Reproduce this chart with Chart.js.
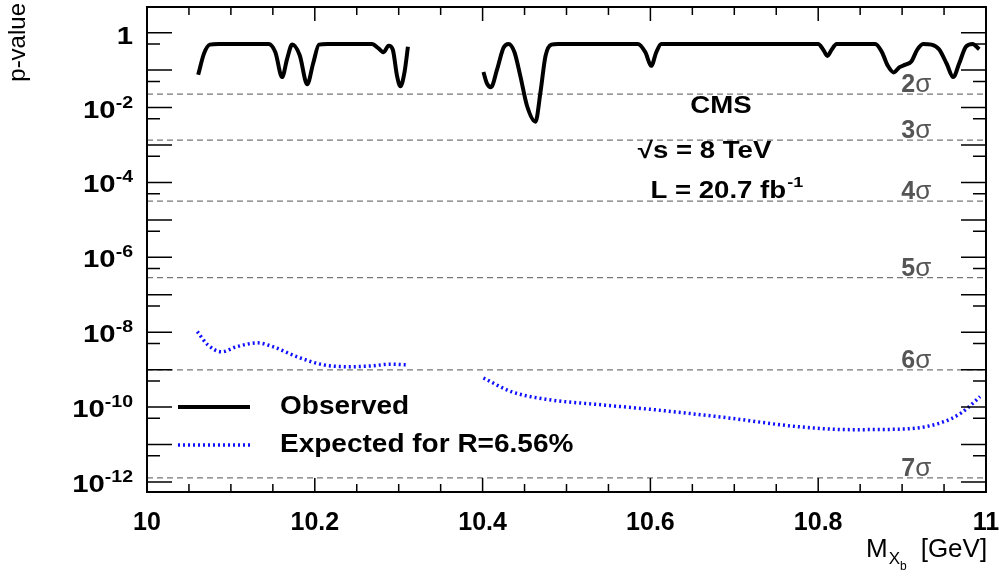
<!DOCTYPE html>
<html>
<head>
<meta charset="utf-8">
<script src="https://cdn.jsdelivr.net/npm/chart.js@4.4.0/dist/chart.umd.min.js"></script>
<style>
  html, body { margin: 0; padding: 0; background: #fff; }
  #wrap { width: 999px; height: 577px; }
</style>
</head>
<body>
<div id="wrap"><canvas id="pChart" width="999" height="577"></canvas></div>
<script>
// observed local p-value (null = gap between the two fit ranges)
const obsMass = [10.061, 10.068, 10.075, 10.085, 10.145, 10.153, 10.161, 10.167, 10.173, 10.182,
  10.191, 10.198, 10.205, 10.215, 10.268, 10.276, 10.282, 10.288, 10.293, 10.298, 10.302, 10.307,
  10.311, 10.35, 10.401, 10.405, 10.410, 10.417, 10.425, 10.431, 10.438, 10.445, 10.453, 10.463,
  10.469, 10.475, 10.482, 10.490, 10.585, 10.594, 10.601, 10.607, 10.613, 10.800, 10.806, 10.811,
  10.816, 10.822, 10.868, 10.876, 10.883, 10.890, 10.897, 10.904, 10.911, 10.918, 10.925, 10.935,
  10.944, 10.953, 10.961, 10.968, 10.976, 10.984, 10.992];
const obsP = [0.075, 0.28, 0.48, 0.5, 0.5, 0.3, 0.065, 0.2, 0.48, 0.25,
  0.042, 0.15, 0.48, 0.5, 0.5, 0.38, 0.30, 0.45, 0.35, 0.07, 0.037, 0.09,
  0.42, null, 0.089, 0.045, 0.035, 0.1, 0.4, 0.5, 0.3, 0.069, 0.011, 0.0042,
  0.026, 0.24, 0.48, 0.5, 0.5, 0.3, 0.13, 0.3, 0.5, 0.5, 0.35, 0.24,
  0.35, 0.5, 0.5, 0.3, 0.13, 0.087, 0.12, 0.14, 0.17, 0.35, 0.5, 0.48,
  0.36, 0.15, 0.065, 0.15, 0.42, 0.5, 0.36];

// expected p-value for R = 6.56%
const expMass = [10.060, 10.072, 10.089, 10.107, 10.132, 10.150, 10.179, 10.210, 10.242, 10.266,
  10.290, 10.310, 10.35, 10.401, 10.434, 10.477, 10.542, 10.605, 10.691, 10.776, 10.840, 10.903,
  10.946, 10.971, 10.993];
const expP = [1.04e-8, 4.7e-9, 3.0e-9, 4.1e-9, 5.2e-9, 4.1e-9, 2.2e-9, 1.35e-9, 1.2e-9, 1.25e-9,
  1.4e-9, 1.35e-9, null, 6.0e-10, 2.6e-10, 1.6e-10, 1.15e-10, 8.5e-11, 5.2e-11, 3.0e-11, 2.5e-11, 2.6e-11,
  3.8e-11, 7.1e-11, 1.9e-10];

// significance reference lines
const sigmaLabels = ['2σ', '3σ', '4σ', '5σ', '6σ', '7σ'];
const sigmaP = [0.02275, 1.35e-3, 3.167e-5, 2.867e-7, 9.866e-10, 1.28e-12];

const xTickValues = [10, 10.2, 10.4, 10.6, 10.8, 11];
const yTickValues = [1, 1e-2, 1e-4, 1e-6, 1e-8, 1e-10, 1e-12];

const SANS = '"Liberation Sans", Arial, Helvetica, sans-serif';

const toPoints = (xs, ys) => xs.map((x, i) => ({ x: x, y: ys[i] }));

// text drawn a bit wider than the font, like the ROOT output
function wideText(ctx, text, x, y, sx) {
  ctx.save();
  ctx.translate(x, y);
  ctx.scale(sx, 1);
  ctx.textAlign = 'left';
  ctx.fillText(text, 0, 0);
  ctx.restore();
  return ctx.measureText(text).width * sx;
}

const sigmaSets = sigmaP.map((p, i) => ({
  label: sigmaLabels[i],
  data: [{ x: 10, y: p }, { x: 11, y: p }],
  borderColor: '#777',
  borderWidth: 1.3,
  borderDash: [6, 4],
  pointRadius: 0,
  order: 5
}));

const obsSet = {
  label: 'Observed',
  data: toPoints(obsMass, obsP),
  borderColor: '#000',
  borderWidth: 4,
  pointRadius: 0,
  cubicInterpolationMode: 'monotone',
  spanGaps: false,
  order: 1
};
const expSet = {
  label: 'Expected for R=6.56%',
  data: toPoints(expMass, expP),
  borderColor: '#1010ff',
  borderWidth: 3.5,
  borderDash: [2, 3],
  pointRadius: 0,
  cubicInterpolationMode: 'monotone',
  spanGaps: false,
  order: 2
};

const rootStyle = {
  id: 'rootStyle',
  beforeDraw(chart) {
    const ctx = chart.ctx;
    ctx.save();
    ctx.fillStyle = '#fff';
    ctx.fillRect(0, 0, chart.width, chart.height);
    ctx.restore();
  },
  afterDraw(chart) {
    const { ctx, chartArea: a, scales: { x, y } } = chart;
    ctx.save();

    // ticks (inside, on all four sides)
    ctx.strokeStyle = '#000';
    ctx.lineWidth = 1.5;
    ctx.beginPath();
    for (let k = 0; k <= 20; k++) {
      const px = x.getPixelForValue(10 + k * 0.05);
      const len = k % 4 === 0 ? 14 : 8;
      ctx.moveTo(px, a.bottom); ctx.lineTo(px, a.bottom - len);
      ctx.moveTo(px, a.top); ctx.lineTo(px, a.top + len);
    }
    for (let n = 0; n >= -13; n--) {
      [[Math.pow(10, n), 25], [5 * Math.pow(10, n - 1), 13]].forEach(([v, len]) => {
        if (v < y.min || v > y.max) return;
        const py = y.getPixelForValue(v);
        ctx.moveTo(a.left, py); ctx.lineTo(a.left + len, py);
        ctx.moveTo(a.right, py); ctx.lineTo(a.right - len, py);
      });
    }
    ctx.stroke();
    ctx.lineWidth = 2;
    ctx.strokeRect(a.left, a.top, a.right - a.left, a.bottom - a.top);

    // y tick labels: 10 with a raised exponent
    ctx.fillStyle = '#000';
    ctx.textBaseline = 'alphabetic';
    ctx.textAlign = 'left';
    const sy = 1.22;
    yTickValues.forEach(v => {
      const py = y.getPixelForValue(v);
      const e = Math.round(Math.log10(v));
      const right = a.left - 14;
      ctx.font = 'bold 24px ' + SANS;
      if (e === 0) {
        wideText(ctx, '1', right - ctx.measureText('1').width * sy, py + 11, sy);
        return;
      }
      const exp = String(e);
      ctx.font = 'bold 16px ' + SANS;
      const we = ctx.measureText(exp).width * sy;
      wideText(ctx, exp, right - we, py, sy);
      ctx.font = 'bold 24px ' + SANS;
      const wb = ctx.measureText('10').width * sy;
      wideText(ctx, '10', right - we - wb, py + 10, sy);
    });

    // sigma labels
    ctx.fillStyle = '#555';
    sigmaP.forEach((p, i) => {
      const py = y.getPixelForValue(p);
      const px = x.getPixelForValue(10.899);
      const num = sigmaLabels[i].charAt(0);
      ctx.font = 'bold 25px ' + SANS;
      ctx.fillText(num, px, py - 2);
      const w = ctx.measureText(num).width;
      ctx.font = '26px ' + SANS;
      ctx.fillText('σ', px + w, py - 2);
    });

    // CMS labels
    ctx.fillStyle = '#000';
    const sc = 1.2;
    ctx.font = 'bold 23px ' + SANS;
    const wc = ctx.measureText('CMS').width * sc;
    wideText(ctx, 'CMS', x.getPixelForValue(10.684) - wc / 2, 113, sc);
    wideText(ctx, '√s = 8 TeV', x.getPixelForValue(10.585), 158, sc);
    const lx = x.getPixelForValue(10.600);
    const wl = wideText(ctx, 'L = 20.7 fb', lx, 198, sc);
    ctx.font = 'bold 15px ' + SANS;
    wideText(ctx, '-1', lx + wl + 1, 187, sc);

    // legend
    const legendRows = [[obsSet, 407], [expSet, 445]];
    legendRows.forEach(([ds, ly]) => {
      ctx.save();
      ctx.strokeStyle = ds.borderColor;
      ctx.lineWidth = ds.borderWidth;
      ctx.setLineDash(ds.borderDash || []);
      ctx.beginPath();
      ctx.moveTo(178, ly); ctx.lineTo(250, ly);
      ctx.stroke();
      ctx.restore();
      ctx.font = 'bold 25px ' + SANS;
      ctx.textBaseline = 'middle';
      wideText(ctx, ds.label, 280, ly, 1.12);
    });

    // axis titles
    ctx.textBaseline = 'alphabetic';
    ctx.font = '26px ' + SANS;
    let tx = 866;
    ctx.fillText('M', tx, 557);
    tx += ctx.measureText('M').width + 1;
    ctx.font = '17px ' + SANS;
    ctx.fillText('X', tx, 564);
    tx += ctx.measureText('X').width;
    ctx.font = '12px ' + SANS;
    ctx.fillText('b', tx, 570);
    tx += ctx.measureText('b').width + 14;
    ctx.font = '26px ' + SANS;
    ctx.fillText('[GeV]', tx, 557);

    ctx.save();
    ctx.translate(25, 3);
    ctx.rotate(-Math.PI / 2);
    ctx.textAlign = 'right';
    ctx.font = '24px ' + SANS;
    ctx.fillText('p-value', 0, 0);
    ctx.restore();

    ctx.restore();
  }
};

new Chart(document.getElementById('pChart'), {
  type: 'line',
  data: { datasets: [obsSet, expSet, ...sigmaSets] },
  options: {
    responsive: false,
    animation: false,
    devicePixelRatio: 1,
    layout: { padding: { top: 7, right: 13, left: 0, bottom: 0 } },
    plugins: { legend: { display: false }, tooltip: { enabled: false } },
    scales: {
      x: {
        type: 'linear',
        min: 10,
        max: 11,
        grid: { display: false },
        border: { display: false },
        afterBuildTicks: (s) => { s.ticks = xTickValues.map(v => ({ value: v })); },
        afterFit: (s) => { s.height = 85; s.paddingLeft = 0; s.paddingRight = 0; },
        ticks: {
          autoSkip: false,
          maxRotation: 0,
          padding: 8,
          color: '#000',
          font: { family: SANS, size: 25, weight: 'bold' },
          callback: (v) => (v === 10 || v === 11) ? String(v) : v.toFixed(1)
        }
      },
      y: {
        type: 'logarithmic',
        min: 5.4e-13,
        max: 4.85,
        bounds: 'data',
        grid: { display: false },
        border: { display: false },
        afterBuildTicks: (s) => { s.ticks = yTickValues.map(v => ({ value: v })); },
        afterFit: (s) => { s.width = 147; s.paddingTop = 0; s.paddingBottom = 0; },
        ticks: { display: false }
      }
    }
  },
  plugins: [rootStyle]
});
</script>
</body>
</html>
